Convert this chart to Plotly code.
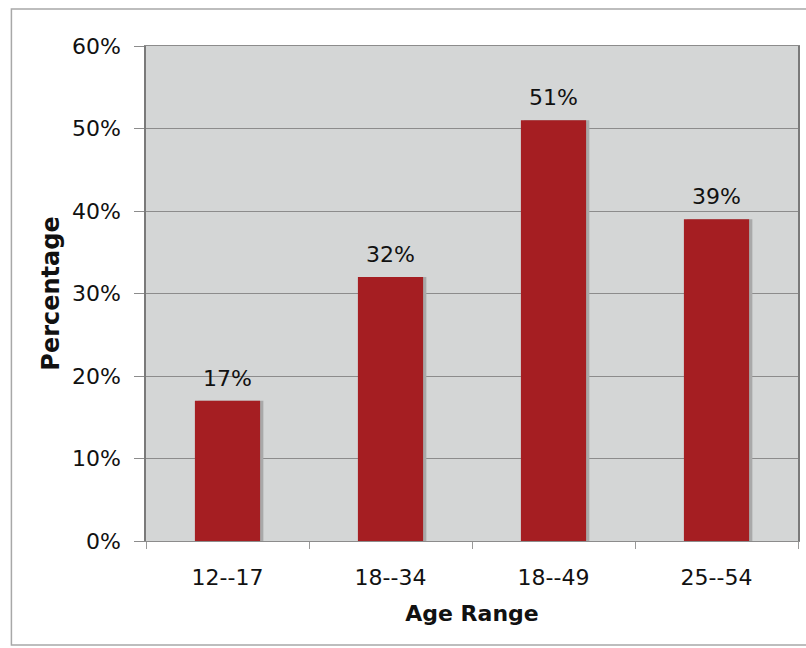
import plotly.graph_objects as go

# Share of each age range
age_ranges = ["12--17", "18--34", "18--49", "25--54"]
percent = [17, 32, 51, 39]
value_labels = ["17%", "32%", "51%", "39%"]

W, H = 806, 648
L, R, T, B = 146, 6, 46, 107

bar_color = "#a51e22"
shadow_color = "#a9a9a9"
plot_bg = "#d4d6d6"
grid_color = "#8c8c8c"
font_family = "DejaVu Sans, Verdana, sans-serif"

fractions = [v / 100 for v in percent]

fig = go.Figure()

# soft drop shadow drawn behind each bar
fig.add_trace(go.Bar(
    x=age_ranges, y=fractions,
    width=0.4, offset=-0.2 + 0.02,
    marker=dict(color=shadow_color, line=dict(width=0)),
    hoverinfo="skip", showlegend=False,
))

fig.add_trace(go.Bar(
    x=age_ranges, y=fractions,
    width=0.4, offset=-0.2,
    marker=dict(color=bar_color, line=dict(width=0)),
    showlegend=False,
))

# value labels above the bars
for cat, frac, lab in zip(age_ranges, fractions, value_labels):
    fig.add_annotation(
        x=cat, y=frac, text=lab, showarrow=False,
        yanchor="bottom", yshift=8,
        font=dict(family=font_family, size=22, color="#111111"),
    )

fig.update_layout(
    width=W, height=H,
    margin=dict(l=L, r=R, t=T, b=B),
    paper_bgcolor="white", plot_bgcolor=plot_bg,
    barmode="overlay",
    font=dict(family=font_family, color="#111111"),
    xaxis=dict(
        type="category", tickson="boundaries",
        ticks="outside", ticklen=7, tickcolor="#999999",
        tickfont=dict(size=22), ticklabelstandoff=17,
        showline=True, linecolor="#8c8c8c", linewidth=1, mirror=True,
        showgrid=False, zeroline=False,
        title=dict(text="<b>Age Range</b>", font=dict(size=22), standoff=16),
    ),
    yaxis=dict(
        range=[0, 0.6], dtick=0.1, tickformat=".0%",
        ticks="outside", ticklen=10, tickcolor="#8c8c8c",
        tickfont=dict(size=22), ticklabelstandoff=9,
        showline=True, linecolor="#7a7a7a", linewidth=1.5, mirror=True,
        showgrid=True, gridcolor=grid_color, gridwidth=1,
        zeroline=False,
        title=dict(text="<b>Percentage</b>", font=dict(size=24), standoff=6),
    ),
)

# outer frame of the chart area
pw, ph = W - L - R, H - T - B
fig.add_shape(
    type="rect", xref="paper", yref="paper",
    x0=(11 - L) / pw, x1=(W + 5 - L) / pw,
    y0=(H - 645 - B) / ph, y1=(H - 9 - B) / ph,
    line=dict(color="#a8a8a8", width=1.5), fillcolor="rgba(0,0,0,0)", layer="below",
)

fig.write_html("out.html")
